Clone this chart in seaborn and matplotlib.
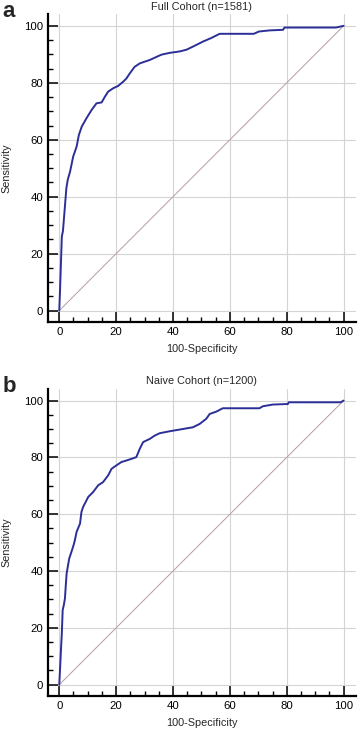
import numpy as np
import pandas as pd
import matplotlib
matplotlib.use("Agg")
import matplotlib.pyplot as plt
from matplotlib.ticker import MultipleLocator
import seaborn as sns

# ROC curve points (100-Specificity, Sensitivity)
fpr_a = [0, 0.3, 0.6, 0.9, 1.3, 1.7, 2.1, 2.5, 3.0, 3.8,
         4.9, 6.1, 6.9, 7.9, 9.6, 11.4, 13.1, 14.9, 16.1, 17.2,
         19.0, 20.7, 22.5, 23.6, 24.8, 26.5, 28.3, 30.0, 31.8, 34.2,
         36.0, 38.8, 42.3, 44.7, 47.0, 50.6, 53.4, 56.4, 60.3, 68.4,
         70.2, 74.0, 78.7, 79.2, 97.3, 100]
tpr_a = [0, 8, 17, 26, 28, 33, 38, 43, 46, 48.8,
         54.1, 57.6, 61.7, 64.6, 67.6, 70.5, 72.8, 73.1, 75.2, 76.9,
         78.1, 78.9, 80.4, 81.5, 83.3, 85.6, 86.8, 87.4, 88.0, 89.1,
         89.9, 90.5, 91.0, 91.6, 92.7, 94.5, 95.7, 97.2, 97.2, 97.2,
         98.0, 98.4, 98.6, 99.4, 99.4, 100]

fpr_b = [0, 0.3, 0.6, 0.9, 1.2, 1.6, 2.0, 2.3, 2.6, 3.2,
         3.5, 4.3, 5.0, 5.5, 6.1, 7.3, 7.8, 8.4, 10.2, 11.9,
         13.7, 15.4, 17.2, 18.4, 20.1, 21.9, 23.6, 25.4, 27.1, 28.3,
         29.5, 31.8, 33.6, 35.3, 38.8, 42.3, 47.0, 49.4, 51.7, 52.9,
         55.2, 57.5, 70.4, 71.6, 75.1, 80.4, 80.7, 99.0, 100]
tpr_b = [0, 6, 12.3, 18, 26.3, 28, 30.4, 35, 39.2, 42.7,
         44.4, 46.8, 49, 50.9, 53.8, 56.7, 60.8, 62.6, 66.1, 67.8,
         70.2, 71.3, 73.7, 76.0, 77.2, 78.4, 78.9, 79.5, 80.1, 83.0,
         85.4, 86.5, 87.7, 88.5, 89.2, 89.8, 90.6, 91.8, 93.6, 95.3,
         96.1, 97.3, 97.3, 98.0, 98.6, 98.8, 99.4, 99.4, 100]

diag = [0, 100]
titles = ["Full Cohort (n=1581)", "Naive Cohort (n=1200)"]
panel_letters = ["a", "b"]
ticks = [0, 20, 40, 60, 80, 100]

sns.set_style("white")
plt.rcParams['font.family'] = ['Liberation Sans', 'DejaVu Sans']

fig = plt.figure(figsize=(3.58, 7.30), dpi=100)
ax_a = fig.add_axes([0.134, 0.559, 0.860, 0.422])
ax_b = fig.add_axes([0.134, 0.0466, 0.860, 0.421])

curves = [(fpr_a, tpr_a), (fpr_b, tpr_b)]
for ax, (fpr, tpr), title, letter in zip([ax_a, ax_b], curves, titles, panel_letters):
    df = pd.DataFrame({"fpr": fpr, "tpr": tpr})
    ax.set_axisbelow(True)
    ax.grid(True, which="major", color="#d4d4d4", linewidth=0.8)
    sns.lineplot(x=diag, y=diag, ax=ax, color="#b89aa4", linewidth=0.7,
                 estimator=None, sort=False)
    sns.lineplot(data=df, x="fpr", y="tpr", ax=ax, color="#2b2f96",
                 linewidth=1.4, estimator=None, sort=False)
    ax.set_xlim(-3.97, 104.3)
    ax.set_ylim(-3.97, 104.2)
    ax.set_xticks(ticks)
    ax.set_yticks(ticks)
    ax.xaxis.set_minor_locator(MultipleLocator(5))
    ax.yaxis.set_minor_locator(MultipleLocator(5))
    ax.tick_params(which="major", direction="in", length=7.5, width=1.1,
                   labelsize=8.2, pad=3.5, bottom=True, left=True, colors="black")
    ax.tick_params(which="minor", direction="in", length=3.8, width=1.0,
                   bottom=True, left=True, colors="black")
    for side in ["top", "right"]:
        ax.spines[side].set_visible(False)
    for side in ["left", "bottom"]:
        ax.spines[side].set_color("black")
        ax.spines[side].set_linewidth(1.6)
    ax.set_xlabel("100-Specificity", fontsize=7.8, labelpad=5)
    ax.set_ylabel("Sensitivity", fontsize=7.8, labelpad=9)
    ax.set_title(title, fontsize=7.8, pad=3)
    ax.text(-0.148, 1.008, letter, transform=ax.transAxes, fontsize=16,
            fontweight="bold", ha="left", va="center")

fig.savefig("out.png", dpi=100)
